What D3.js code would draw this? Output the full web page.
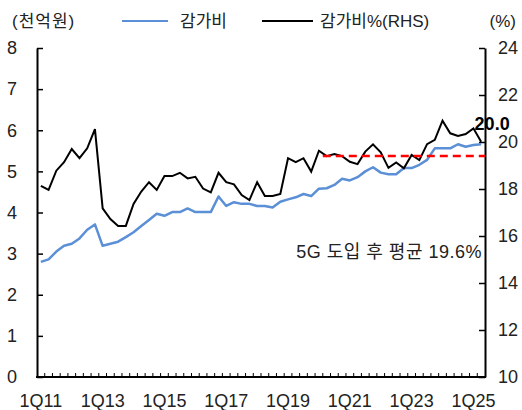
<!DOCTYPE html>
<html><head><meta charset="utf-8">
<script src="https://cdn.jsdelivr.net/npm/d3@7/dist/d3.min.js"></script>
<style>
body{margin:0;background:#fff;}
svg{display:block;font-family:"Liberation Sans","Noto Sans CJK KR",sans-serif;}
</style></head>
<body>
<svg id="chart" width="522" height="410"></svg>
<script>
// ---- data ----
const years = d3.range(11, 26);
const quarters = [];
years.forEach(y => [1,2,3,4].forEach(q => { if (!(y === 25 && q > 2)) quarters.push(q + "Q" + y); }));
const xTickLabels = ["1Q11","1Q13","1Q15","1Q17","1Q19","1Q21","1Q23","1Q25"];
const deprec = [2.80,2.86,3.05,3.19,3.24,3.37,3.58,3.71,3.19,3.24,3.29,3.40,3.52,3.67,3.82,3.97,
  3.92,4.01,4.01,4.10,4.01,4.01,4.01,4.39,4.16,4.25,4.21,4.21,4.16,4.16,4.12,4.26,
  4.32,4.37,4.45,4.40,4.58,4.59,4.67,4.82,4.78,4.86,5.00,5.10,4.97,4.93,4.93,5.08,
  5.08,5.16,5.28,5.56,5.56,5.56,5.66,5.60,5.64,5.66];
const ratio = [18.13,17.96,18.78,19.14,19.70,19.31,19.73,20.55,17.18,16.72,16.43,16.43,17.36,17.89,18.29,17.96,
  18.55,18.55,18.69,18.45,18.52,18.02,17.86,18.69,18.29,18.20,17.74,17.53,18.29,17.70,17.70,17.79,
  19.31,19.14,19.31,18.74,19.63,19.40,19.49,19.40,19.16,19.06,19.59,19.90,19.56,18.90,19.13,18.88,
  19.45,19.23,19.91,20.09,20.91,20.37,20.26,20.34,20.58,20.01];
const avgStart = "2Q20";
const avgLevel = 19.4;
const avgText = "5G 도입 후 평균 19.6%";
const leftTicks = [0,1,2,3,4,5,6,7,8];
const rightTicks = [10,12,14,16,18,20,22,24];
const seriesNames = ["감가비", "감가비%(RHS)"];
const leftUnit = "(천억원)", rightUnit = "(%)";

// ---- scales ----
const svg = d3.select("#chart");
const x = d3.scaleBand().domain(quarters).range([37, 485]);
const yL = d3.scaleLinear().domain([0, 8]).range([377, 48]);
const yR = d3.scaleLinear().domain([10, 24]).range([377, 48]);
const cx = d => x(d) + x.bandwidth() / 2;
const txt = "#222";

// axes
const gL = svg.append("g").attr("transform", "translate(37,0)")
  .call(d3.axisLeft(yL).tickValues(leftTicks).tickSizeInner(-6).tickSizeOuter(0).tickPadding(20).tickFormat(d3.format("d")));
const gR = svg.append("g").attr("transform", "translate(485,0)")
  .call(d3.axisRight(yR).tickValues(rightTicks).tickSizeInner(-6).tickSizeOuter(0).tickPadding(13).tickFormat(d3.format("d")));
// minor quarter ticks
const gB = svg.append("g").attr("transform", "translate(0,377)");
gB.selectAll("line.minor").data(quarters.slice(1)).join("line")
  .attr("x1", d => x(d)).attr("x2", d => x(d)).attr("y1", 0).attr("y2", -4)
  .attr("stroke", "#000").attr("stroke-width", 1);
gB.call(d3.axisBottom(x).tickValues(xTickLabels).tickSize(0).tickPadding(17));
[gL, gR, gB].forEach(g => {
  g.select(".domain").attr("stroke", "#000").attr("stroke-width", 2);
  g.selectAll(".tick line").attr("stroke", "#000").attr("stroke-width", 1.5);
  g.selectAll("text").attr("font-size", 18).attr("fill", txt).attr("font-family", null);
});
gB.select(".domain").attr("d", "M36,0H486");

// lines
svg.append("path").datum(deprec)
  .attr("fill", "none").attr("stroke", "#5b8fd6").attr("stroke-width", 2.5).attr("stroke-linejoin", "round")
  .attr("d", d3.line().x((d, i) => cx(quarters[i])).y(d => yL(d)));
svg.append("path").datum(ratio)
  .attr("fill", "none").attr("stroke", "#000").attr("stroke-width", 2).attr("stroke-linejoin", "miter")
  .attr("d", d3.line().x((d, i) => cx(quarters[i])).y(d => yR(d)));

// average dashed line
svg.append("line")
  .attr("x1", x(avgStart)).attr("x2", x(quarters[quarters.length - 1]) + x.bandwidth())
  .attr("y1", yR(avgLevel)).attr("y2", yR(avgLevel))
  .attr("stroke", "#ff0000").attr("stroke-width", 2.5).attr("stroke-dasharray", "8,5");
svg.append("text").attr("x", x(quarters[quarters.length - 1]) + x.bandwidth() - 3).attr("y", 258)
  .attr("text-anchor", "end").attr("font-size", 18).attr("letter-spacing", 0.5).attr("fill", txt).text(avgText);

// last value label
const last = ratio[ratio.length - 1];
svg.append("text").attr("x", cx(quarters[quarters.length - 1]) + 11).attr("y", yR(last) - 12)
  .attr("text-anchor", "middle").attr("font-size", 18).attr("font-weight", "bold").attr("fill", "#000")
  .text(last.toFixed(1));

// legend & units
svg.append("text").attr("x", 12).attr("y", 27).attr("font-size", 17).attr("letter-spacing", 1).attr("fill", txt).text(leftUnit);
svg.append("text").attr("x", 516).attr("y", 27).attr("text-anchor", "end").attr("font-size", 17).attr("fill", txt).text(rightUnit);
svg.append("line").attr("x1", 122).attr("x2", 168).attr("y1", 21).attr("y2", 21).attr("stroke", "#5b8fd6").attr("stroke-width", 2);
svg.append("text").attr("x", 180).attr("y", 27).attr("font-size", 17).attr("fill", txt).text(seriesNames[0]);
svg.append("line").attr("x1", 262).attr("x2", 313).attr("y1", 21).attr("y2", 21).attr("stroke", "#000").attr("stroke-width", 2);
svg.append("text").attr("x", 320).attr("y", 27).attr("font-size", 17).attr("fill", txt).text(seriesNames[1]);
</script>
</body></html>
